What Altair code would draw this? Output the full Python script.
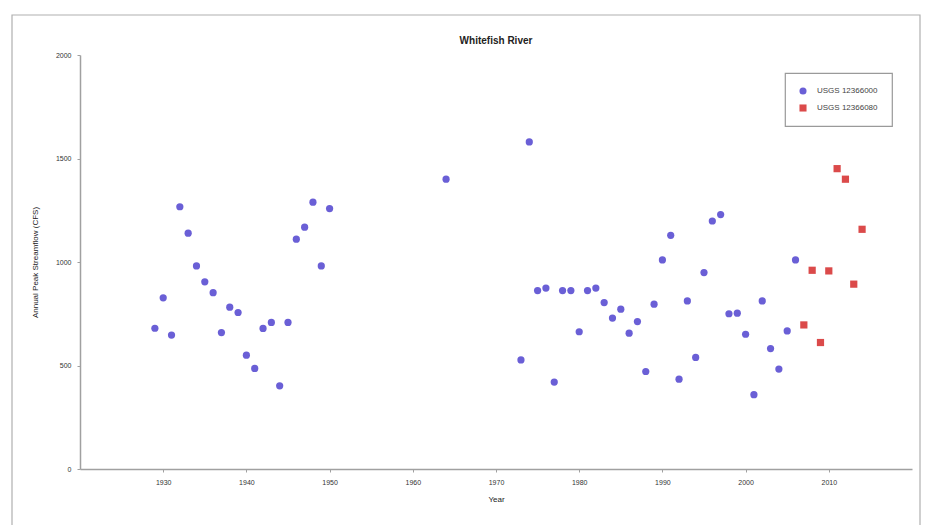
import altair as alt
import pandas as pd

# Annual peak streamflow, gauge USGS 12366000
years_a = [1929, 1930, 1931, 1932, 1933, 1934, 1935, 1936, 1937, 1938, 1939,
           1940, 1941, 1942, 1943, 1944, 1945, 1946, 1947, 1948, 1949, 1950,
           1964,
           1973, 1974, 1975, 1976, 1977, 1978, 1979, 1980, 1981, 1982, 1983,
           1984, 1985, 1986, 1987, 1988, 1989, 1990, 1991, 1992, 1993, 1994,
           1995, 1996, 1997, 1998, 1999, 2000, 2001, 2002, 2003, 2004, 2005,
           2006]
flow_a = [680, 827, 647, 1267, 1139, 981, 904, 852, 659, 782, 756,
          550, 486, 679, 708, 402, 708, 1110, 1168, 1289, 981, 1258,
          1400,
          527, 1580, 862, 874, 420, 862, 862, 663, 862, 874, 804,
          729, 772, 656, 712, 471, 796, 1010, 1129, 434, 812, 539,
          949, 1198, 1229, 750, 753, 651, 359, 812, 582, 483, 667,
          1010]

# Annual peak streamflow, gauge USGS 12366080
years_b = [2007, 2008, 2009, 2010, 2011, 2012, 2013, 2014]
flow_b = [696, 960, 611, 957, 1451, 1400, 893, 1158]

series_names = ["USGS 12366000", "USGS 12366080"]
series_colors = ["#6a5fd6", "#db4a4a"]
series_shapes = ["circle", "square"]
chart_title = "Whitefish River"

df = pd.concat([
    pd.DataFrame({"Year": years_a, "Flow": flow_a, "Gauge": series_names[0]}),
    pd.DataFrame({"Year": years_b, "Flow": flow_b, "Gauge": series_names[1]}),
])

FONT = "Liberation Sans"

legend = alt.Legend(title=None, orient="none", legendX=705, legendY=18)

points = alt.Chart(df).mark_point(filled=True, size=52, opacity=1).encode(
    x=alt.X("Year:Q",
            scale=alt.Scale(domain=[1920, 2020], nice=False, zero=False),
            axis=alt.Axis(values=list(range(1930, 2020, 10)), format="d",
                          title="Year", grid=False)),
    y=alt.Y("Flow:Q",
            scale=alt.Scale(domain=[0, 2000], nice=False),
            axis=alt.Axis(values=[0, 500, 1000, 1500, 2000], format="d",
                          title="Annual Peak Streamflow (CFS)", grid=False)),
    color=alt.Color("Gauge:N",
                    scale=alt.Scale(domain=series_names, range=series_colors),
                    legend=legend),
    shape=alt.Shape("Gauge:N",
                    scale=alt.Scale(domain=series_names, range=series_shapes),
                    legend=legend),
)

# thin outer frame around the figure
frame = alt.Chart(pd.DataFrame({"k": [0]})).mark_rect(
    fill=None, stroke="#b0b0b0", strokeWidth=1.2
).encode(
    x=alt.value(-68), x2=alt.value(840),
    y=alt.value(-40), y2=alt.value(480),
)

# chart heading, centred over the plot area
heading = alt.Chart(pd.DataFrame({"t": [chart_title]})).mark_text(
    font=FONT, fontSize=10, fontWeight="bold", color="#222",
    align="center", baseline="alphabetic"
).encode(
    text="t:N", x=alt.value(416), y=alt.value(-11),
)

chart = alt.layer(frame, points, heading).properties(
    width=832, height=414,
    autosize=alt.AutoSizeParams(type="none"),
    padding={"left": 80, "top": 55, "right": 14, "bottom": 56},
).configure_view(
    stroke=None
).configure_axis(
    labelFont=FONT, titleFont=FONT, labelFontSize=7, titleFontSize=8,
    titleFontWeight="normal", labelColor="#333", titleColor="#222",
    domainColor="#a0a0a0", domainWidth=1.5, tickColor="#a0a0a0",
    tickSize=3, labelPadding=6,
).configure_axisX(
    titlePadding=10
).configure_axisY(
    titlePadding=16
).configure_legend(
    labelFont=FONT, labelFontSize=8, labelColor="#444",
    strokeColor="#9a9a9a", strokeWidth=1.2, padding=14,
    symbolSize=50, rowPadding=9, labelOffset=10, symbolStrokeWidth=0,
)

chart.save("out.html", embed_options={"renderer": "svg", "actions": False})
